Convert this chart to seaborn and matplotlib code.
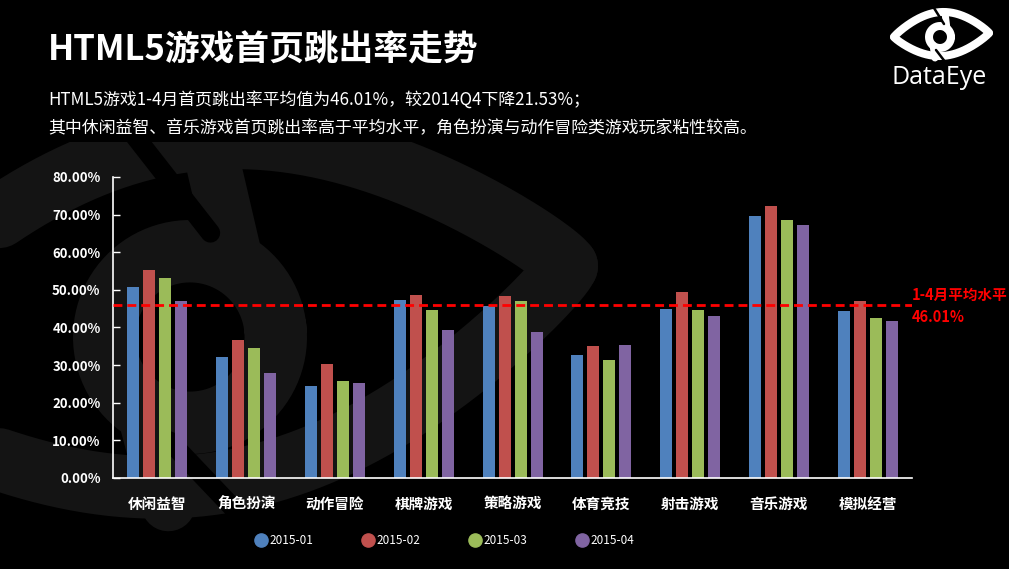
import pandas as pd
import seaborn as sns
import matplotlib.pyplot as plt
from matplotlib.lines import Line2D
import numpy as np

# chart data
categories = ['休闲益智', '角色扮演', '动作冒险', '棋牌游戏', '策略游戏', '体育竞技', '射击游戏', '音乐游戏', '模拟经营']
months = ['2015-01', '2015-02', '2015-03', '2015-04']
rate_01 = [50.8, 32.2, 24.5, 47.3, 45.7, 32.7, 44.9, 69.7, 44.4]
rate_02 = [55.3, 36.7, 30.3, 48.7, 48.4, 35.1, 49.5, 72.3, 47.1]
rate_03 = [53.2, 34.6, 25.8, 44.7, 47.1, 31.4, 44.7, 68.6, 42.6]
rate_04 = [47.1, 27.9, 25.3, 39.4, 38.8, 35.4, 43.1, 67.3, 41.8]
average = 46.01
yticks = [0, 10, 20, 30, 40, 50, 60, 70, 80]

colors = ['#4F81BD', '#C0504D', '#9BBB59', '#8064A2']

rows = []
for m, vals in zip(months, [rate_01, rate_02, rate_03, rate_04]):
    for c, v in zip(categories, vals):
        rows.append({'category': c, 'month': m, 'rate': v})
df = pd.DataFrame(rows)

sns.set_style('dark')
plt.rcParams['font.family'] = ['Noto Sans CJK SC', 'DejaVu Sans']

W, H = 1009, 569
fig = plt.figure(figsize=(W / 100, H / 100), dpi=100, facecolor='black')


def draw_logo(ax, cx, cy, s, color, ang=0.0):
    # eye logo, drawn in pixel coords (y grows downward); s = scale, ang = tilt in degrees
    px = s * 0.72  # line widths in points per logo pixel
    c, sn = np.cos(np.radians(ang)), np.sin(np.radians(ang))

    def put(x, y, **kw):
        x, y = np.asarray(x, float), np.asarray(y, float)
        ax.plot(cx + s * (x * c + y * sn), cy + s * (-x * sn + y * c), **kw)

    t = np.linspace(0, 1, 200)
    x = -46 + 95 * t
    base = 0 - 4 * t
    put(x, base - 23 * np.sin(np.pi * t) ** 0.85, color=color, lw=8 * px, solid_capstyle='round')
    put(x, base + 21 * np.sin(np.pi * t) ** 0.85, color=color, lw=8 * px, solid_capstyle='round')
    a = np.linspace(0, 2 * np.pi, 200)
    put(11 * np.cos(a), 11 * np.sin(a), color=color, lw=8 * px)
    # tails of the "d"
    put([7, 5], [-8, -24], color=color, lw=7 * px)
    put([-7, -5], [8, 21], color=color, lw=7 * px)
    # black cuts
    put([-6, 4], [-29, -13], color='black', lw=2.5 * px)
    put([6, -4], [26, 13], color='black', lw=2.5 * px)


# faint watermark of the eye logo behind the chart
bg = fig.add_axes([0, 0, 1, 1 - 142 / H], zorder=-1)
bg.set_xlim(0, W)
bg.set_ylim(H, 142)
bg.set_axis_off()
draw_logo(bg, 190, 337, 7.8, '#141414', ang=6)

ax = fig.add_axes([0.112, 0.16, 0.792, 0.529])
ax.set_facecolor('none')

sns.barplot(data=df, x='category', y='rate', hue='month', palette=colors,
            width=0.72, gap=0.25, saturation=1, linewidth=0, ax=ax, legend=False)

ax.plot([-0.5, 8.5], [average, average], color='#FF0000', lw=2, ls=(0, (3.2, 1.8)), zorder=5)

ax.set_ylim(0, 80)
ax.set_xlim(-0.5, 8.5)
ax.set_yticks(yticks)
ax.set_yticklabels([f'{t:.2f}%' for t in yticks], color='white', fontsize=9.5, fontweight='bold')
ax.set_xticklabels(categories, color='white', fontsize=10.5, fontweight='bold')
ax.tick_params(axis='y', direction='in', length=5, color='white', width=1, pad=9, left=True)
ax.tick_params(axis='x', length=0, pad=13)
ax.set_xlabel('')
ax.set_ylabel('')
ax.grid(False)
for s in ['top', 'right']:
    ax.spines[s].set_visible(False)
for s in ['left', 'bottom']:
    ax.spines[s].set_visible(True)
    ax.spines[s].set_color('white')
    ax.spines[s].set_linewidth(1.2)

# average annotation
fig.text(912 / W, 1 - 295 / H, '1-4月平均水平', color='#FF0000', fontsize=10.5,
         fontweight='bold', va='center', ha='left')
fig.text(912 / W, 1 - 317 / H, f'{average:.2f}%', color='#FF0000', fontsize=10.5,
         fontweight='bold', va='center', ha='left')

# legend
handles = [Line2D([], [], marker='o', ls='', markersize=9.5, markerfacecolor=c,
                  markeredgecolor=c) for c in colors]
leg = fig.legend(handles, months, loc='center', bbox_to_anchor=(0.44, 1 - 541 / H),
                 ncol=4, frameon=False, fontsize=8.5, columnspacing=4.05, handletextpad=0.1,
                 handlelength=1.2)
for t in leg.get_texts():
    t.set_color('white')

# title and subtitle
fig.text(48 / W, 1 - 50 / H, 'HTML5游戏首页跳出率走势', color='white', fontsize=25,
         fontweight='bold', va='center', ha='left')
fig.text(48 / W, 1 - 100 / H, 'HTML5游戏1-4月首页跳出率平均值为46.01%，较2014Q4下降21.53%；',
         color='white', fontsize=12.2, va='center', ha='left')
fig.text(48 / W, 1 - 128 / H, '其中休闲益智、音乐游戏首页跳出率高于平均水平，角色扮演与动作冒险类游戏玩家粘性较高。',
         color='white', fontsize=12.2, va='center', ha='left')

# DataEye logo, top right
top = fig.add_axes([0, 0, 1, 1], zorder=5)
top.set_facecolor('none')
top.set_xlim(0, W)
top.set_ylim(H, 0)
top.set_axis_off()
draw_logo(top, 940, 37, 1.0, 'white')
fig.text(939 / W, 1 - 77 / H, 'DataEye', color='white', fontsize=18, va='center', ha='center',
         family=['Open Sans', 'DejaVu Sans'])

fig.savefig('out.png', dpi=100, facecolor='black')
